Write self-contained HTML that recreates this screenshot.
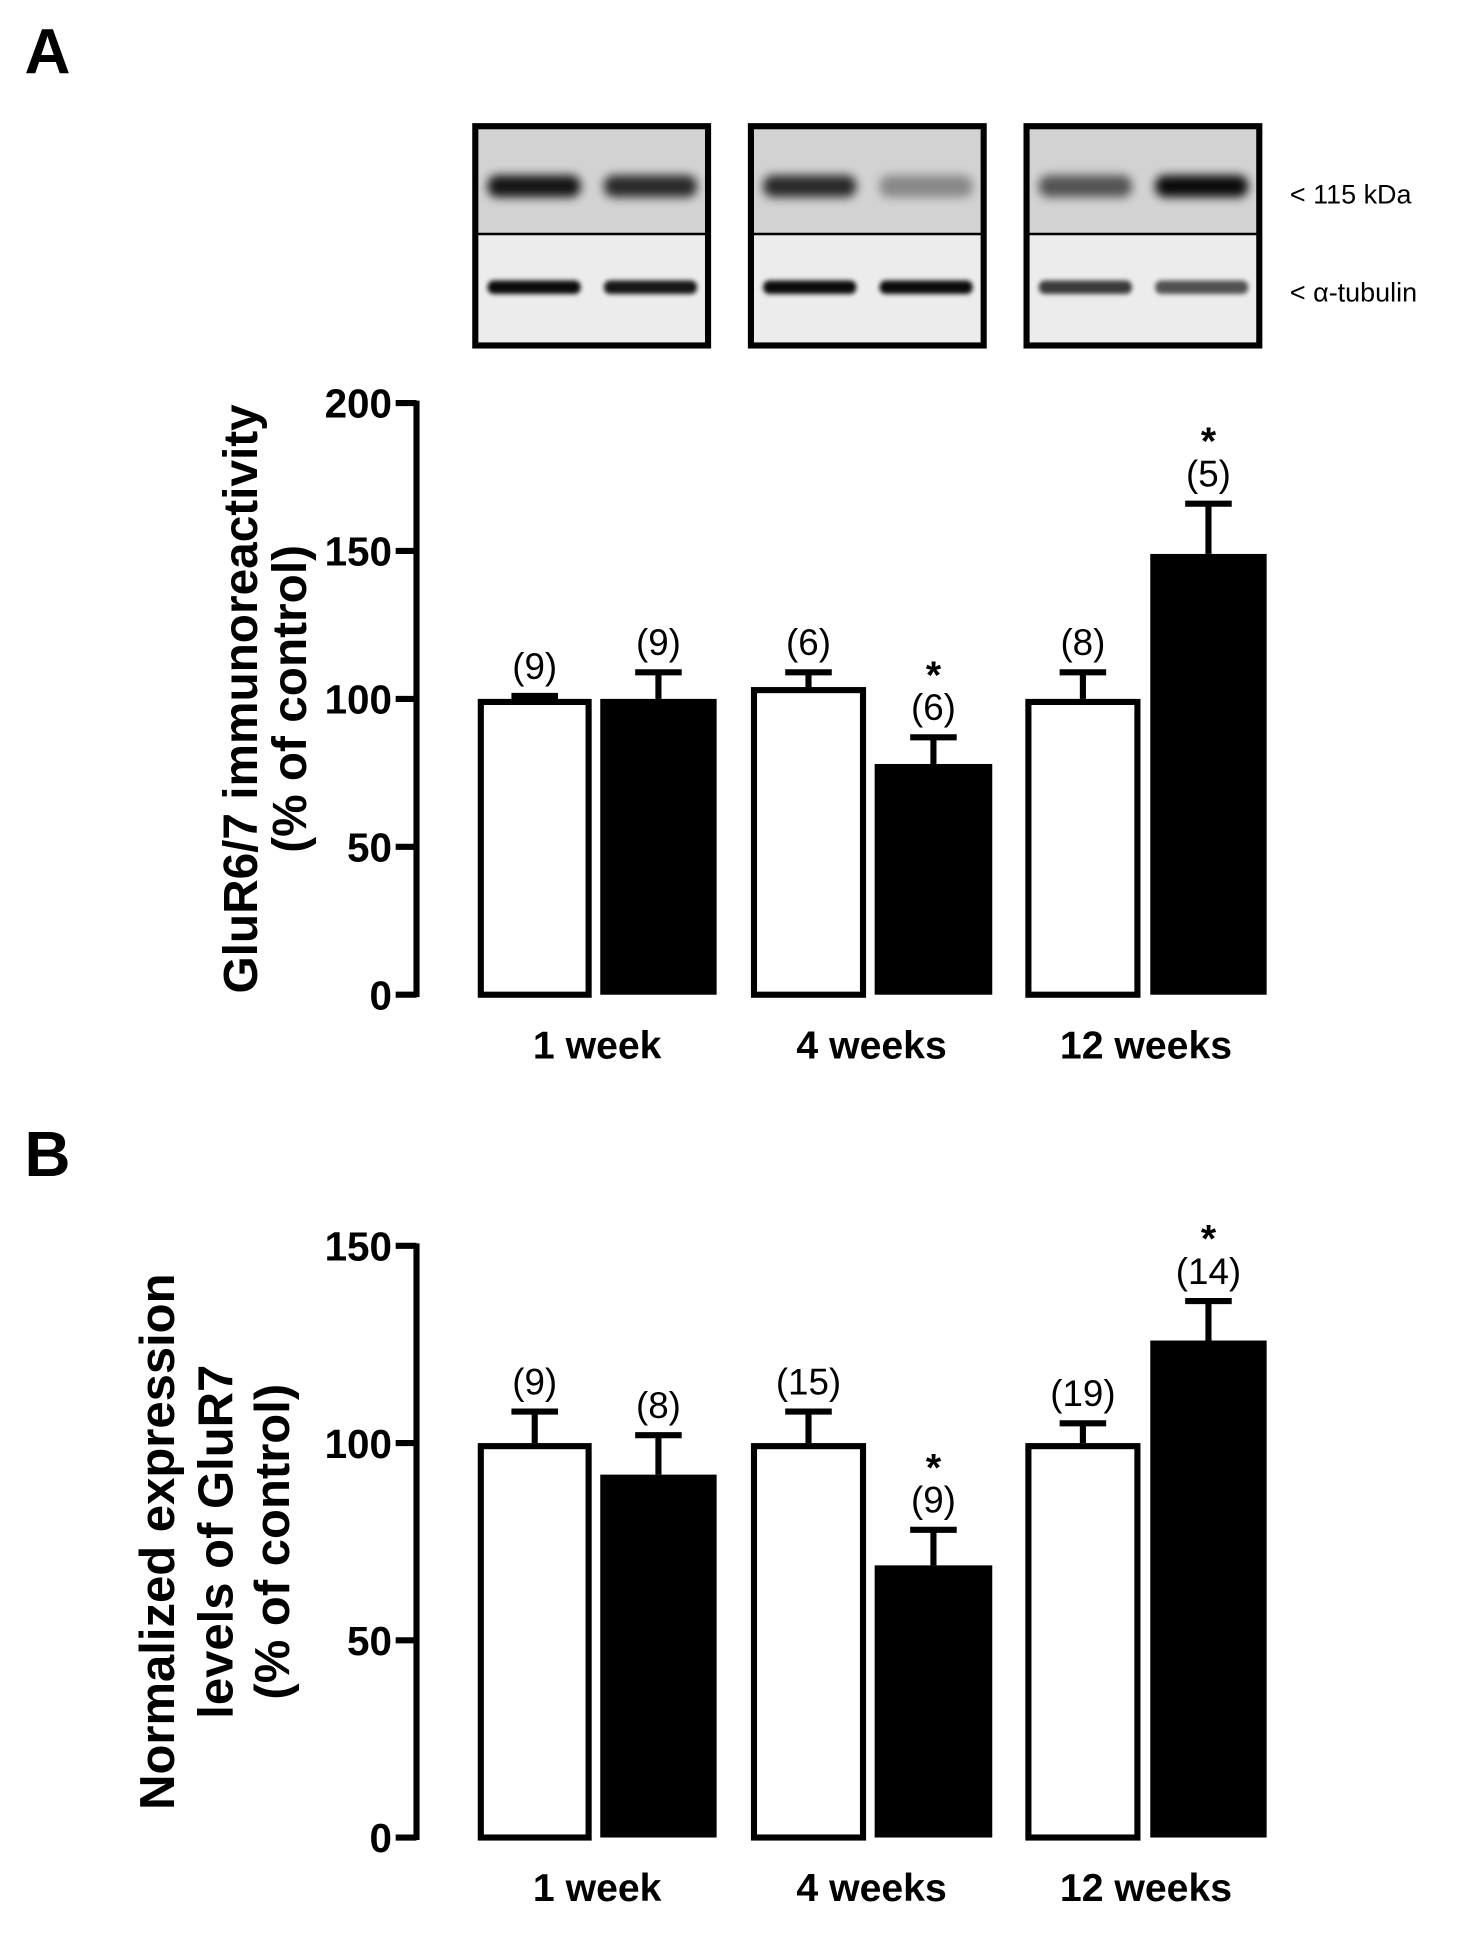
<!DOCTYPE html>
<html><head><meta charset="utf-8"><style>
html,body{margin:0;padding:0;background:#fff;}
svg{display:block;font-family:"Liberation Sans",sans-serif;}
</style></head><body>
<svg id="fig" width="1470" height="1938" viewBox="0 0 1200 1582" xmlns="http://www.w3.org/2000/svg">
<defs>
<filter id="blur" x="-20%" y="-50%" width="140%" height="200%"><feGaussianBlur stdDeviation="4"/></filter>
<filter id="blur2" x="-20%" y="-50%" width="140%" height="200%"><feGaussianBlur stdDeviation="2"/></filter>
</defs>
<text x="20" y="60" font-size="52" font-weight="bold">A</text>
<text x="20" y="960" font-size="52" font-weight="bold">B</text>
<g id="blots"></g>
<text x="1053" y="166" font-size="22">&lt; 115 kDa</text>
<text x="1053" y="246" font-size="22">&lt; α-tubulin</text>
<g id="chartA"></g>
<g id="chartB"></g>
</svg>
<script>
const categories = ["1 week", "4 weeks", "12 weeks"];
const aValues = [100, 100, 104, 78, 100, 149];
const aErrors = [1, 9, 5, 9, 9, 17];
const aNs = ["(9)", "(9)", "(6)", "(6)", "(8)", "(5)"];
const aStars = [false, false, false, true, false, true];
const aTicks = [0, 50, 100, 150, 200];
const bValues = [100, 92, 100, 69, 100, 126];
const bErrors = [8, 10, 8, 9, 5, 10];
const bNs = ["(9)", "(8)", "(15)", "(9)", "(19)", "(14)"];
const bStars = [false, false, false, true, false, true];
const bTicks = [0, 50, 100, 150];
const band115 = [0.9, 0.8, 0.8, 0.35, 0.6, 0.95];
const bandTub = [0.95, 0.9, 0.95, 0.95, 0.75, 0.65];

const NS = "http://www.w3.org/2000/svg";
function mk(tag, attrs, parent, text) {
  const e = document.createElementNS(NS, tag);
  for (const k in attrs) e.setAttribute(k, attrs[k]);
  if (text !== undefined) e.textContent = text;
  parent.appendChild(e);
  return e;
}
const barX = [390, 490, 613, 714, 837, 939];
const barW = [93, 95, 94, 96, 94, 95];

const blots = document.getElementById('blots');
for (let g = 0; g < 3; g++) {
  const x0 = 388 + g * 225, y0 = 103, w = 190, h = 179;
  const grp = mk('g', {}, blots);
  
  
  mk('rect', {x: x0, y: y0, width: w, height: 88, fill: '#d2d2d2'}, grp);
  mk('rect', {x: x0, y: y0 + 88, width: w, height: 91, fill: '#ececec'}, grp);
  for (let l = 0; l < 2; l++) {
    const i = g * 2 + l;
    const bx = x0 + 10 + l * 95;
    const b1 = mk('rect', {x: bx, y: y0 + 40, width: 76, height: 18, rx: 8, fill: '#000', opacity: band115[i], filter: 'url(#blur)'}, grp);
    
    
    const b2 = mk('rect', {x: bx, y: y0 + 126, width: 76, height: 11, rx: 5, fill: '#000', opacity: bandTub[i], filter: 'url(#blur2)'}, grp);
    
    
  }
  mk('line', {x1: x0, x2: x0 + w, y1: y0 + 88, y2: y0 + 88, stroke: '#000', 'stroke-width': 2}, grp);
  mk('rect', {x: x0, y: y0, width: w, height: h, fill: 'none', stroke: '#000', 'stroke-width': 5}, grp);
}

function drawChart(root, values, errors, ns, stars, ticks, y0, yTop, maxV, titleLines, titleXs, titleSize) {
  const ys = v => y0 - (v / maxV) * (y0 - yTop);
  const ax = mk('line', {x1: 340, x2: 340, y1: ys(maxV) - 2, y2: y0 + 2, stroke: '#000', 'stroke-width': 5}, root);
  
  
  ticks.forEach(t => {
    const tk = mk('line', {x1: 323, x2: 340, y1: ys(t), y2: ys(t), stroke: '#000', 'stroke-width': 5}, root);
    
    
    const tl = mk('text', {x: 320, y: ys(t) + 12, 'font-size': 33, 'font-weight': 'bold', 'text-anchor': 'end'}, root, String(t));
    
    
  });
  values.forEach((v, i) => {
    const x = barX[i], w = barW[i];
    const white = i % 2 === 0;
    const top = ys(v), et = ys(v + errors[i]);
    const cx = x + w / 2;
    const eb = mk('line', {x1: cx, x2: cx, y1: top, y2: et, stroke: '#000', 'stroke-width': 5}, root);
    
    
    const cap = mk('line', {x1: cx - 19, x2: cx + 19, y1: et, y2: et, stroke: '#000', 'stroke-width': 5}, root);
    
    
    let r;
    if (white) r = mk('rect', {x: x + 2.5, y: top + 2.5, width: w - 5, height: y0 - top - 2.5, fill: '#fff', stroke: '#000', 'stroke-width': 5}, root);
    else r = mk('rect', {x: x, y: top, width: w, height: y0 - top, fill: '#000'}, root);
    
    
    const nt = mk('text', {x: cx, y: et - 14, 'font-size': 30, 'text-anchor': 'middle'}, root, ns[i]);
    
    
    if (stars[i]) {
      const st = mk('text', {x: cx, y: et - 40, 'font-size': 32, 'font-weight': 'bold', 'text-anchor': 'middle'}, root, '*');
      
      
    }
  });
  categories.forEach((c, k) => {
    const cx = (barX[2 * k] + barX[2 * k + 1] + barW[2 * k + 1]) / 2;
    const xl = mk('text', {x: cx, y: y0 + 52, 'font-size': 32, 'font-weight': 'bold', 'text-anchor': 'middle'}, root, c);
    
    
  });
  const cy = (y0 + ys(maxV)) / 2;
  titleLines.forEach((t, j) => {
    const tt = mk('text', {x: titleXs[j], y: cy, 'font-size': titleSize, 'font-weight': 'bold', 'text-anchor': 'middle', transform: 'rotate(-90 ' + titleXs[j] + ' ' + cy + ')'}, root, t);
    
    
  });
}
drawChart(document.getElementById('chartA'), aValues, aErrors, aNs, aStars, aTicks, 812, 329, 200,
  ["GluR6/7 immunoreactivity", "(% of control)"], [210, 250], 39);
drawChart(document.getElementById('chartB'), bValues, bErrors, bNs, bStars, bTicks, 1500, 1017, 150,
  ["Normalized expression", "levels of GluR7", "(% of control)"], [142, 190, 236], 40);
</script>
</body></html>
